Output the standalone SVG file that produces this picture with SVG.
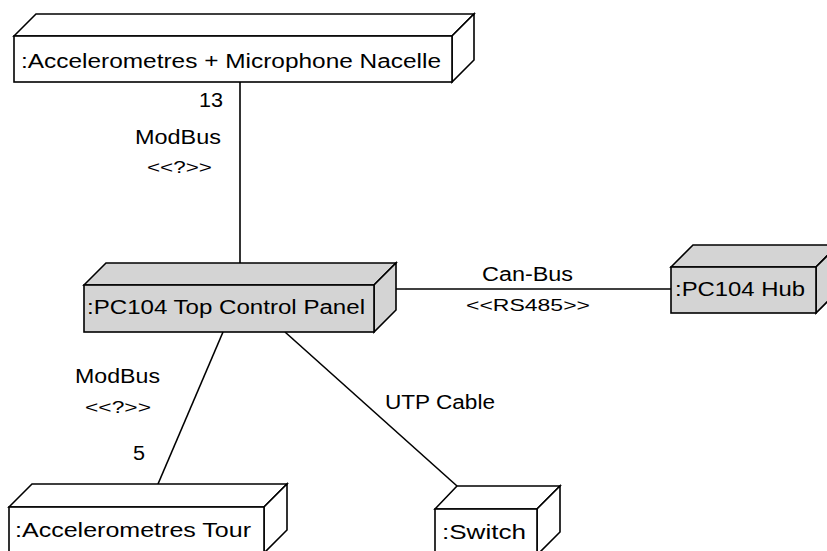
<svg xmlns="http://www.w3.org/2000/svg" width="827" height="551" viewBox="0 0 827 551">
<style>
.face{stroke:#000;stroke-width:1.6;stroke-linejoin:miter}
.white{fill:#fff}
.gray{fill:#d4d4d4}
.lbl{font-family:"Liberation Sans",Arial,sans-serif;font-size:20px;fill:#000}
.st{font-family:"Liberation Sans",Arial,sans-serif;font-size:17px;fill:#000}
.conn{stroke:#000;stroke-width:1.6;fill:none}
</style>
<rect width="827" height="551" fill="#fff"/>
<g id="connectors">
<line class="conn" x1="240" y1="82" x2="240" y2="263"/>
<line class="conn" x1="396" y1="289" x2="671" y2="289"/>
<line class="conn" x1="223" y1="332" x2="158" y2="484"/>
<line class="conn" x1="285" y1="332" x2="457" y2="486"/>
<text class="lbl" x="199" y="107" textLength="24" lengthAdjust="spacingAndGlyphs">13</text>
<text class="lbl" x="135" y="144" textLength="86" lengthAdjust="spacingAndGlyphs">ModBus</text>
<text class="st" x="147" y="173" textLength="65" lengthAdjust="spacingAndGlyphs">&lt;&lt;?&gt;&gt;</text>
<text class="lbl" x="482" y="281" textLength="91" lengthAdjust="spacingAndGlyphs">Can-Bus</text>
<text class="st" x="466" y="311" textLength="124" lengthAdjust="spacingAndGlyphs">&lt;&lt;RS485&gt;&gt;</text>
<text class="lbl" x="75" y="383" textLength="85" lengthAdjust="spacingAndGlyphs">ModBus</text>
<text class="st" x="85" y="413" textLength="66" lengthAdjust="spacingAndGlyphs">&lt;&lt;?&gt;&gt;</text>
<text class="lbl" x="133" y="460" textLength="12" lengthAdjust="spacingAndGlyphs">5</text>
<text class="lbl" x="385" y="409" textLength="110" lengthAdjust="spacingAndGlyphs">UTP Cable</text>
</g>
<g id="node-nacelle">
<polygon class="face white" points="14,36 36,14 474,14 452,36"/>
<polygon class="face white" points="452,36 474,14 474,60 452,82"/>
<rect class="face white" x="14" y="36" width="438" height="46"/>
<text class="lbl" x="21" y="68" textLength="420" lengthAdjust="spacingAndGlyphs">:Accelerometres + Microphone Nacelle</text>
</g>
<g id="node-panel">
<polygon class="face gray" points="84,285 106,263 396,263 374,285"/>
<polygon class="face gray" points="374,285 396,263 396,310 374,332"/>
<rect class="face gray" x="84" y="285" width="290" height="47"/>
<text class="lbl" x="87" y="314" textLength="278" lengthAdjust="spacingAndGlyphs">:PC104 Top Control Panel</text>
</g>
<g id="node-hub">
<polygon class="face gray" points="671,267 693,245 838,245 816,267"/>
<polygon class="face gray" points="816,267 838,245 838,291 816,313"/>
<rect class="face gray" x="671" y="267" width="145" height="46"/>
<text class="lbl" x="675" y="296" textLength="130" lengthAdjust="spacingAndGlyphs">:PC104 Hub</text>
</g>
<g id="node-tour">
<polygon class="face white" points="9,507 32,484 287,484 264,507"/>
<polygon class="face white" points="264,507 287,484 287,530 264,553"/>
<rect class="face white" x="9" y="507" width="255" height="46"/>
<text class="lbl" x="15" y="537" textLength="236" lengthAdjust="spacingAndGlyphs">:Accelerometres Tour</text>
</g>
<g id="node-switch">
<polygon class="face white" points="435,509 457,486 560,486 537,509"/>
<polygon class="face white" points="537,509 560,486 560,532 537,555"/>
<rect class="face white" x="435" y="509" width="102" height="46"/>
<text class="lbl" x="442" y="539" textLength="84" lengthAdjust="spacingAndGlyphs">:Switch</text>
</g>
</svg>
